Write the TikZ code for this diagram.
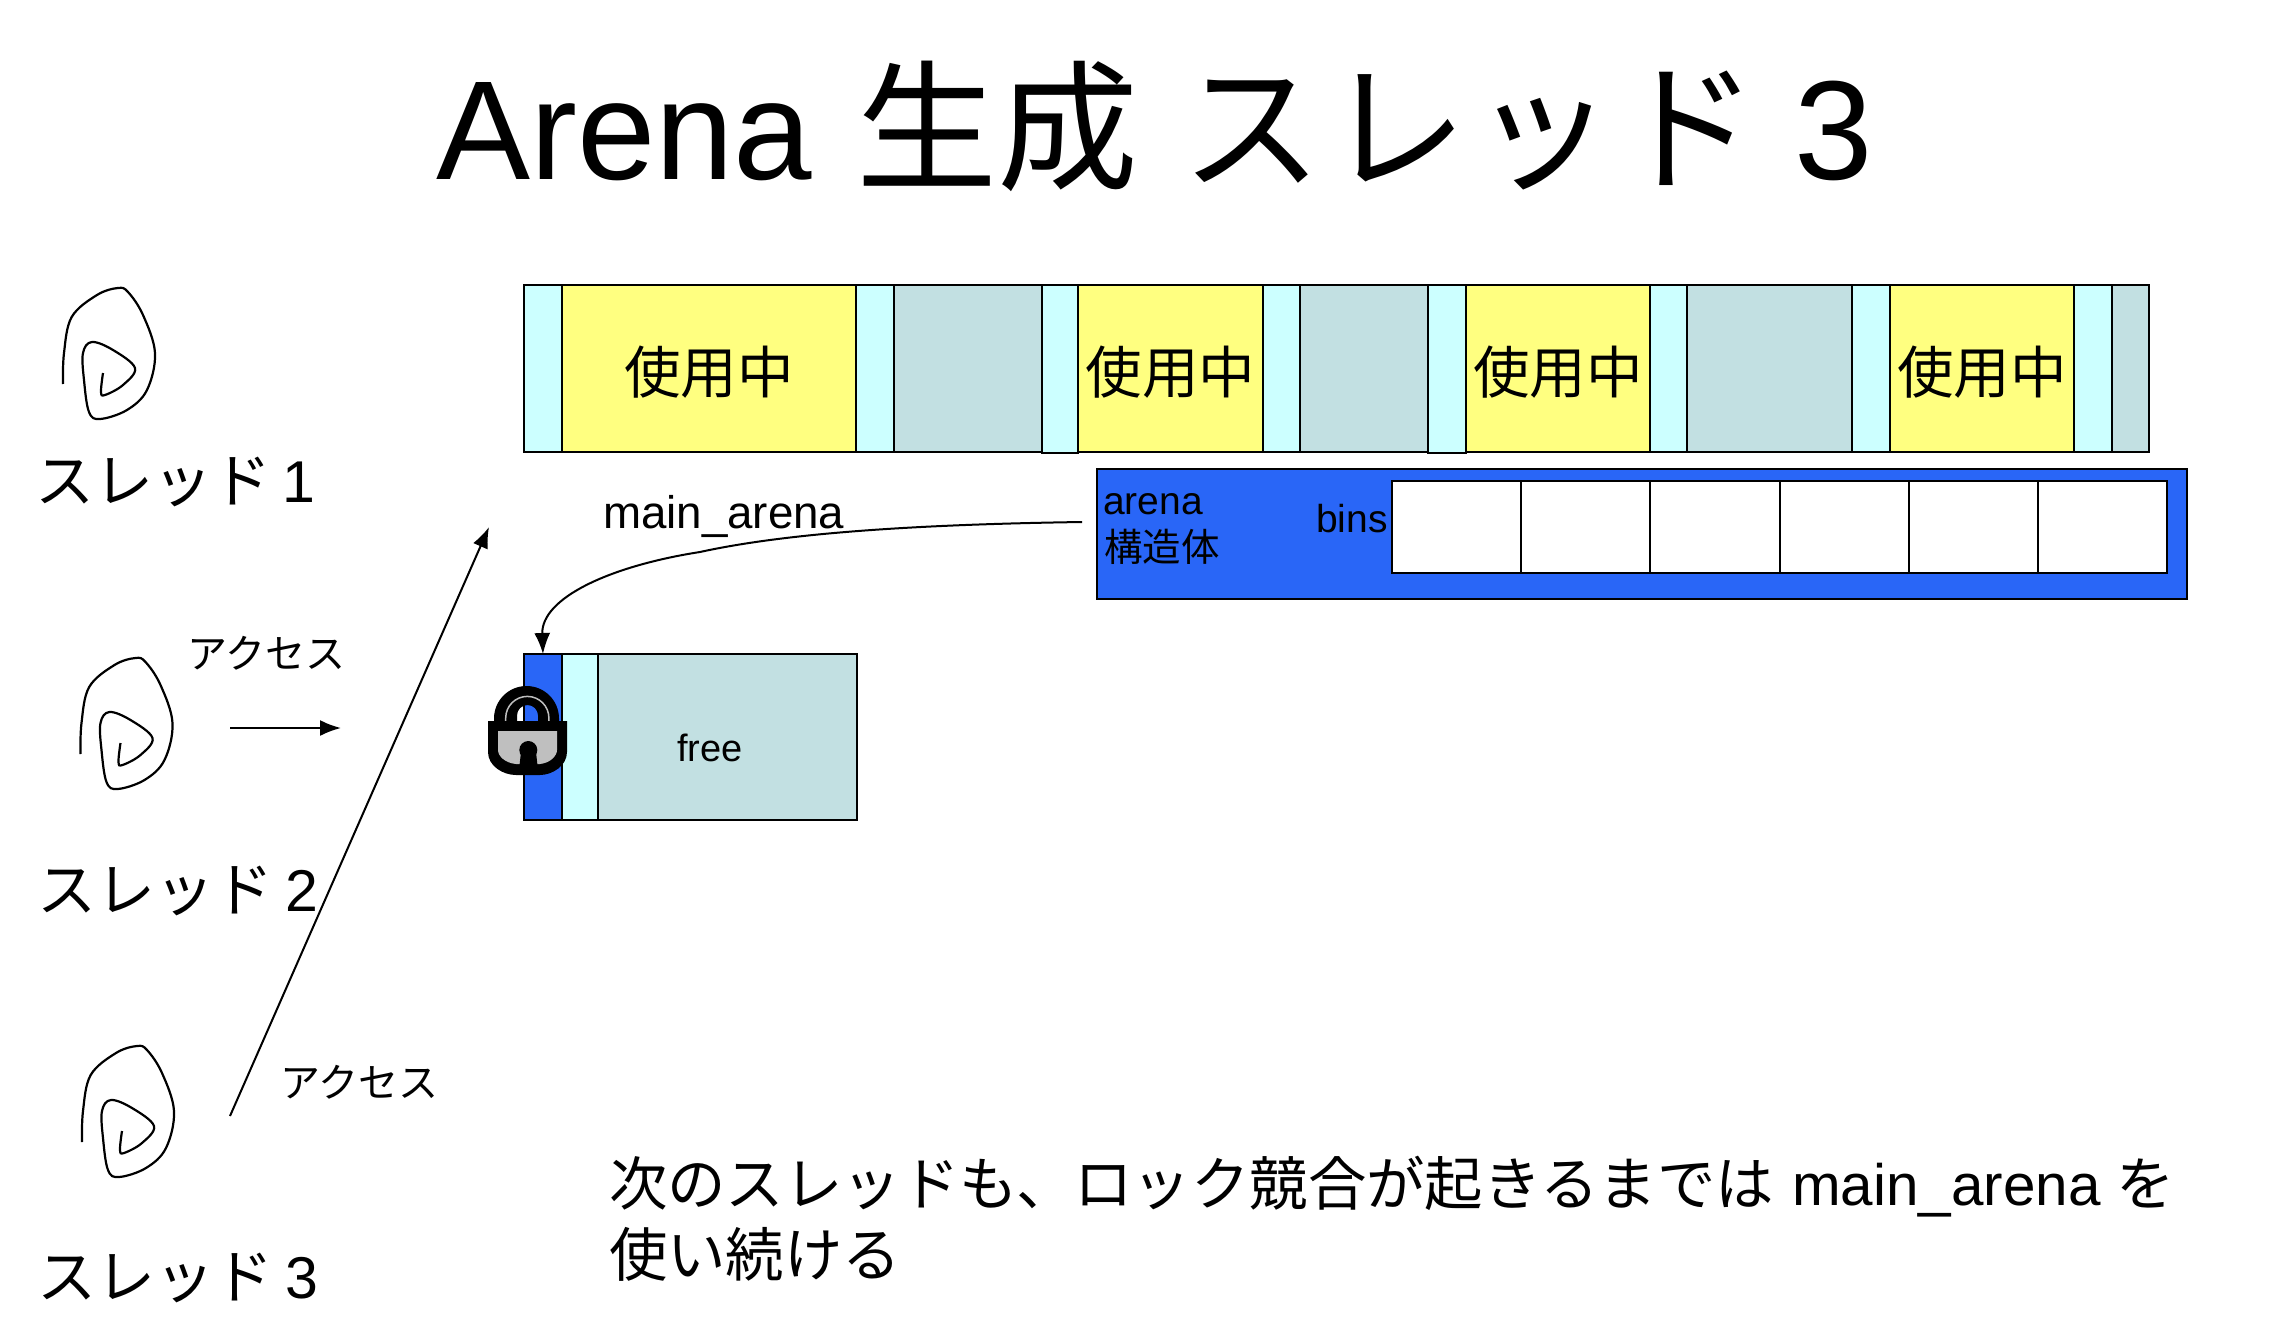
\documentclass[tikz,border=0pt]{standalone}
\usepackage{fontspec}
\setmainfont{Liberation Sans}
\newfontfamily\jpfont{Noto Sans CJK JP}
\usetikzlibrary{arrows.meta}

\definecolor{UsedYellow}{HTML}{FFFF80}
\definecolor{HeadCyan}{HTML}{CCFFFF}
\definecolor{FreeGrey}{HTML}{C2E0E2}
\definecolor{ArenaBlue}{HTML}{2966F7}

\newcommand{\fsize}[1]{\fontsize{#1}{#1}\selectfont}
\newcommand{\usedtext}{\raisebox{-4pt}[\height][\depth]{使用中}}

\tikzset{
    cellbox/.style={draw=black, line width=2pt, anchor=north west, inner sep=0pt, outer sep=0pt},
    headcell/.style={cellbox, fill=HeadCyan, minimum height=166.5pt},
    usedcell/.style={cellbox, fill=UsedYellow, minimum height=166.5pt, font=\fsize{56.5}\jpfont},
    freecell/.style={cellbox, fill=FreeGrey, minimum height=166.5pt},
    bincell/.style={cellbox, fill=white, minimum width=129.2pt, minimum height=92pt},
    textlabel/.style={anchor=base west, inner sep=0pt, outer sep=0pt},
    threadlabel/.style={textlabel, font=\fsize{59}},
    accesslabel/.style={textlabel, font=\fsize{40}\jpfont},
    arrowline/.style={line width=2pt, -{Latex[length=21pt,width=16pt]}},
    spiral/.pic={
        \draw[line width=2.2pt] plot[smooth, tension=0.6] coordinates {(0,0) (1,-31) (8.7,-67) (34,-89) (55,-96) (65,-92) (80,-69) (92,-31) (84,6) (64,26) (37,35) (26,28) (21,-4) (20,-31) (29,-42) (50,-34) (72,-16) (60,1) (42,11) (38,8) (40,-11)};
    }
}

\begin{document}
\begin{tikzpicture}[x=1pt,y=-1pt]

    \useasboundingbox (0,0) rectangle (2294,1338);
    \fill[white] (0,0) rectangle (2294,1338); %Background

    %Title
    \node[textlabel, font=\fsize{141}] (title) at (436,179) {Arena \hspace{5pt}{\jpfont 生成} \hspace{4pt}{\jpfont\addfontfeatures{LetterSpace=3}スレッド} \hspace{-3pt}3};

    %Threads
    \pic at (63,384) {spiral};
    \pic at (80.5,754) {spiral};
    \pic at (82,1142) {spiral};
    \node[threadlabel] (thread1) at (35,502) {{\jpfont スレッド} \hspace{-5pt}1};
    \node[threadlabel] (thread2) at (37,911) {{\jpfont スレッド} \hspace{-4pt}2};
    \node[threadlabel] (thread3) at (37,1298.5) {{\jpfont スレッド} \hspace{-4pt}3};

    %Access arrows
    \node[accesslabel] (access2) at (187,668) {アクセス};
    \node[accesslabel] (access3) at (280,1097) {アクセス};
    \coordinate (from2) at (230,728);
    \coordinate (to2) at (341,728);
    \coordinate (from3) at (230,1116);
    \coordinate (to3) at (489,527);
    \draw[arrowline] (from2) -- (to2);
    \draw[arrowline] (from3) -- (to3);

    %Heap row
    \node[headcell, minimum width=38pt] (h1) at (524,285) {};
    \node[usedcell, minimum width=294pt] (u1) at (562,285) {\usedtext};
    \node[headcell, minimum width=38pt] (h2) at (856,285) {};
    \node[freecell, minimum width=148pt] (f1) at (894,285) {};
    \node[headcell, minimum width=36pt, minimum height=167.5pt] (h3) at (1042,285) {};
    \node[usedcell, minimum width=185pt] (u2) at (1078,285) {\usedtext};
    \node[headcell, minimum width=37pt] (h4) at (1263,285) {};
    \node[freecell, minimum width=128pt] (f2) at (1300,285) {};
    \node[headcell, minimum width=38pt, minimum height=167.5pt] (h5) at (1428,285) {};
    \node[usedcell, minimum width=184pt] (u3) at (1466,285) {\usedtext};
    \node[headcell, minimum width=37pt] (h6) at (1650,285) {};
    \node[freecell, minimum width=165pt] (f3) at (1687,285) {};
    \node[headcell, minimum width=38pt] (h7) at (1852,285) {};
    \node[usedcell, minimum width=184pt] (u4) at (1890,285) {\usedtext};
    \node[headcell, minimum width=38pt] (h8) at (2074,285) {};
    \node[freecell, minimum width=37pt] (f4) at (2112,285) {};

    %Arena structure
    \node[cellbox, fill=ArenaBlue, minimum width=1090pt, minimum height=130pt] (arena) at (1097,469) {};
    \foreach \i [evaluate=\i as \xpos using 1392+129.2*\i] in {0,...,5} {
        \node[bincell] (bin\i) at (\xpos,481) {};
    }
    \node[textlabel, font=\fsize{39}] (arenaname) at (1103,514.5) {arena};
    \node[textlabel, font=\fsize{38.5}\jpfont] (arenakind) at (1104,561.5) {構造体};
    \node[textlabel, font=\fsize{39}] (binsname) at (1316,532.5) {bins};
    \node[textlabel, font=\fsize{45.7}] (mainname) at (603,528) {main\_arena};

    %New chunk
    \node[cellbox, fill=ArenaBlue, minimum width=38pt, minimum height=166pt] (lockhead) at (524,654) {};
    \node[cellbox, fill=HeadCyan, minimum width=36pt, minimum height=166pt] (newhead) at (562,654) {};
    \node[cellbox, fill=FreeGrey, minimum width=259pt, minimum height=166pt] (newfree) at (598,654) {};
    \node[textlabel, font=\fsize{38}] (freename) at (677,761.5) {free};

    %Pointer to the chunk
    \coordinate (arenaout) at (1082,522);
    \coordinate (arenabend) at (700,552);
    \draw[line width=2pt] (arenaout) .. controls (950,524) and (800,530) .. (arenabend);
    \draw[arrowline] (arenabend) .. controls (610,566) and (541,598) .. (lockhead.north);

    %Lock
    \fill[black] (494,721) -- (494,718.5) arc[start angle=180, end angle=360, radius=32.5] -- (559,721) -- (538,721) -- (538,715.5) arc[start angle=0, end angle=-180, radius=10.5] -- (517,721) -- cycle; %Shackle
    \draw[color=black!25, line width=1.5pt] (505.7,721) -- (505.7,718) arc[start angle=180, end angle=360, radius=21.6] -- (549,721); %Shine
    \fill[black] (488,721) -- (567,721) -- (567,752) .. controls (567,766) and (552,775) .. (540,775) -- (516,775) .. controls (503,775) and (488,766) .. (488,752) -- cycle; %Body
    \fill[color=black!25] (498,731) -- (557,731) -- (557,750) .. controls (557,756) and (550,763) .. (540,764) -- (516,764) .. controls (505,763) and (498,756) .. (498,750) -- cycle; %Plate
    \fill[black] (528.3,750) circle[radius=9]; %Keyhole
    \fill[black] (521,752) -- (536,752) -- (538,770) -- (519,770) -- cycle;

    %Note
    \node[anchor=north west, inner sep=0pt, outer sep=0pt, align=left, font=\fsize{58.4}] (note) at (609,1156) {{\jpfont 次のスレッドも、ロック競合が起きるまでは}\hspace{2pt} main\_arena {\jpfont を}\\[9pt]{\jpfont 使い続ける}};

\end{tikzpicture}
\end{document}
